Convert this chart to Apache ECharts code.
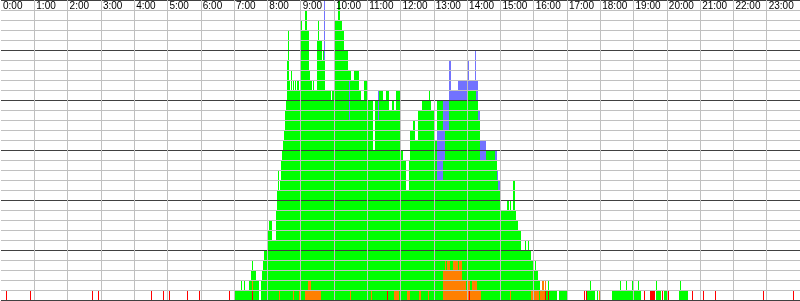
<!DOCTYPE html>
<html>
<head>
<meta charset="utf-8">
<script src="https://cdn.jsdelivr.net/npm/echarts@6/dist/echarts.min.js"></script>
<style>
  html, body { margin: 0; padding: 0; background: #fff; }
  #chart { width: 800px; height: 301px; }
</style>
</head>
<body>
<div id="chart"></div>
<script>
// one slot = 1.8 minutes, 800 slots = 24 hours
const SLOTS = 800
const hourLabels = ['0:00', '1:00', '2:00', '3:00', '4:00', '5:00', '6:00', '7:00', '8:00', '9:00', '10:00', '11:00',
  '12:00', '13:00', '14:00', '15:00', '16:00', '17:00', '18:00', '19:00', '20:00', '21:00', '22:00', '23:00']

// [firstSlot, count] - count holds until the next entry
// top of the red + orange + lower green stack
const stackTop = [[0,0],[234,1],[240,2],[241,1],[243,2],[244,1],[248,2],[250,3],[251,4],[252,3],[255,2],[258,0],[260,2],
  [261,3],[262,4],[263,5],[266,6],[267,7],[268,8],[271,6],[275,9],[276,11],[277,13],[278,11],[279,12],[280,14],[281,15],
  [282,16],[283,17],[284,19],[285,20],[286,24],[287,27],[288,22],[289,21],[290,23],[291,21],[292,22],[293,21],[294,22],
  [295,21],[296,22],[298,21],[299,22],[300,28],[301,27],[304,29],[306,27],[308,23],[309,22],[311,21],[312,22],[313,21],
  [316,26],[317,28],[318,26],[321,24],[322,25],[323,24],[324,21],[330,20],[331,21],[333,28],[337,30],[339,28],[341,27],
  [343,25],[347,23],[348,18],[349,23],[350,22],[353,23],[358,21],[360,20],[363,22],[367,20],[372,15],[374,20],[377,18],
  [378,21],[382,20],[385,21],[388,19],[391,20],[393,19],[395,21],[400,20],[401,15],[403,14],[406,11],[409,14],[410,17],
  [413,18],[415,16],[418,19],[422,20],[429,21],[430,20],[431,19],[434,16],[437,12],[443,14],[445,17],[449,20],[467,21],
  [476,20],[478,18],[480,14],[486,15],[495,14],[497,12],[498,11],[500,10],[501,9],[507,10],[509,9],[510,10],[511,9],
  [513,12],[515,9],[516,8],[518,7],[521,5],[525,6],[526,5],[528,6],[529,5],[531,4],[534,3],[535,4],[536,3],[538,2],[540,1],
  [543,2],[544,1],[548,2],[549,1],[557,0],[559,1],[567,0],[587,1],[590,2],[591,1],[595,0],[597,1],[598,0],[612,1],[620,2],
  [621,1],[626,2],[627,1],[632,2],[633,1],[638,2],[639,1],[641,0],[656,2],[657,1],[661,0],[664,1],[667,0],[679,1],[680,2],
  [681,1],[688,0]]

// blue count sitting on the lower green
const blueSteps = [[0,0],[323,6],[324,0],[348,4],[349,0],[377,3],[378,0],[437,5],[443,6],[445,3],[449,4],[451,1],
  [458,2],[467,3],[469,1],[475,4],[476,2],[478,1],[480,2],[486,0],[495,1],[501,0]]

// green count sitting above the blue
const upperSteps = [[0,0],[348,1],[349,0],[437,3],[443,0]]

// orange count above red
const orangeSteps = [[0,0],[251,1],[252,0],[278,1],[279,0],[292,1],[293,0],[298,1],[300,0],[304,1],[307,2],[310,1],[320,0],
  [349,1],[350,0],[370,1],[371,0],[393,1],[398,0],[407,1],[410,0],[419,1],[421,0],[428,1],[429,0],[443,3],[445,4],[446,3],
  [447,4],[450,3],[453,4],[458,3],[459,4],[462,2],[466,1],[467,2],[469,1],[472,2],[477,1],[481,0],[500,1],[501,0],[510,1],
  [511,0],[531,1],[539,0],[540,1],[542,2],[544,1],[546,0],[599,1],[600,0]]

// slots with a single red count at the bottom
const redSlots = [5, 29, 91, 97, 150, 162, 168, 186, 198, 228, 251, 386, 469, 545, 548, 584, 586, 644, 650, 651, 652, 653,
  654, 662, 668, 692, 703, 715, 763, 793]

const colors = ['#ff0000', '#ff8000', '#00ff00', '#7272ff', '#00ff00']

const expand = (steps) => {
  const out = new Array(SLOTS).fill(0)
  steps.forEach((s, i) => {
    const end = i + 1 < steps.length ? steps[i + 1][0] : SLOTS
    for (let k = s[0]; k < end; k++) out[k] = s[1]
  })
  return out
}

const topData = expand(stackTop)
const orangeData = expand(orangeSteps)
const blueData = expand(blueSteps)
const upperData = expand(upperSteps)
const redData = new Array(SLOTS).fill(0)
redSlots.forEach(s => { redData[s] = 1 })

// [slot, red, orange, green, blue, green above blue]
const rows = []
for (let i = 0; i < SLOTS; i++) {
  const green = Math.max(0, topData[i] - redData[i] - orangeData[i])
  if (redData[i] + orangeData[i] + green + blueData[i] + upperData[i] > 0) {
    rows.push([i, redData[i], orangeData[i], green, blueData[i], upperData[i]])
  }
}

const renderColumn = (params, api) => {
  const slot = api.value(0)
  const mid = api.coord([slot, 0])
  const w = api.size([1, 0])[0]
  const x0 = Math.round(mid[0] - w / 2)
  const x1 = Math.round(mid[0] + w / 2)
  const children = []
  let base = 0
  for (let k = 0; k < 5; k++) {
    const n = api.value(k + 1)
    if (n > 0) {
      const yb = Math.round(api.coord([slot, base])[1])
      const yt = Math.round(api.coord([slot, base + n])[1])
      children.push({
        type: 'rect',
        shape: { x: x0, y: yt, width: x1 - x0, height: yb - yt },
        style: { fill: colors[k] }
      })
    }
    base += n
  }
  return { type: 'group', children }
}

const chart = echarts.init(document.getElementById('chart'), null, { renderer: 'canvas' })

chart.setOption({
  animation: false,
  backgroundColor: '#ffffff',
  grid: { left: 0, top: 0, width: 800, height: 300 },
  xAxis: [
    {
      type: 'category',
      data: Array.from({ length: SLOTS }, (_, i) => i),
      show: false
    },
    {
      type: 'value',
      position: 'top',
      min: 0,
      max: 24,
      interval: 1,
      z: 10,
      axisLine: { show: false },
      axisTick: { show: false },
      axisLabel: {
        inside: true,
        margin: 1,
        align: 'left',
        verticalAlign: 'top',
        padding: [0, 0, 0, 2],
        color: '#000',
        fontFamily: 'Liberation Sans',
        fontSize: 10,
        showMaxLabel: false,
        formatter: v => hourLabels[v] || ''
      },
      splitLine: { show: true, showMinLine: false, lineStyle: { color: '#c0c0c0', width: 1 } }
    }
  ],
  yAxis: {
    type: 'value',
    min: 0,
    max: 30,
    interval: 5,
    z: 9,
    axisLine: { show: false },
    axisTick: { show: false },
    axisLabel: { show: false },
    minorTick: { show: false, splitNumber: 5 },
    splitLine: { show: true, lineStyle: { color: '#404040', width: 1 } },
    minorSplitLine: { show: true, lineStyle: { color: '#c0c0c0', width: 1 } }
  },
  series: [{
    type: 'custom',
    xAxisIndex: 0,
    yAxisIndex: 0,
    silent: true,
    renderItem: renderColumn,
    encode: { x: 0, y: [1, 2, 3, 4, 5] },
    data: rows
  }]
})
</script>
</body>
</html>
